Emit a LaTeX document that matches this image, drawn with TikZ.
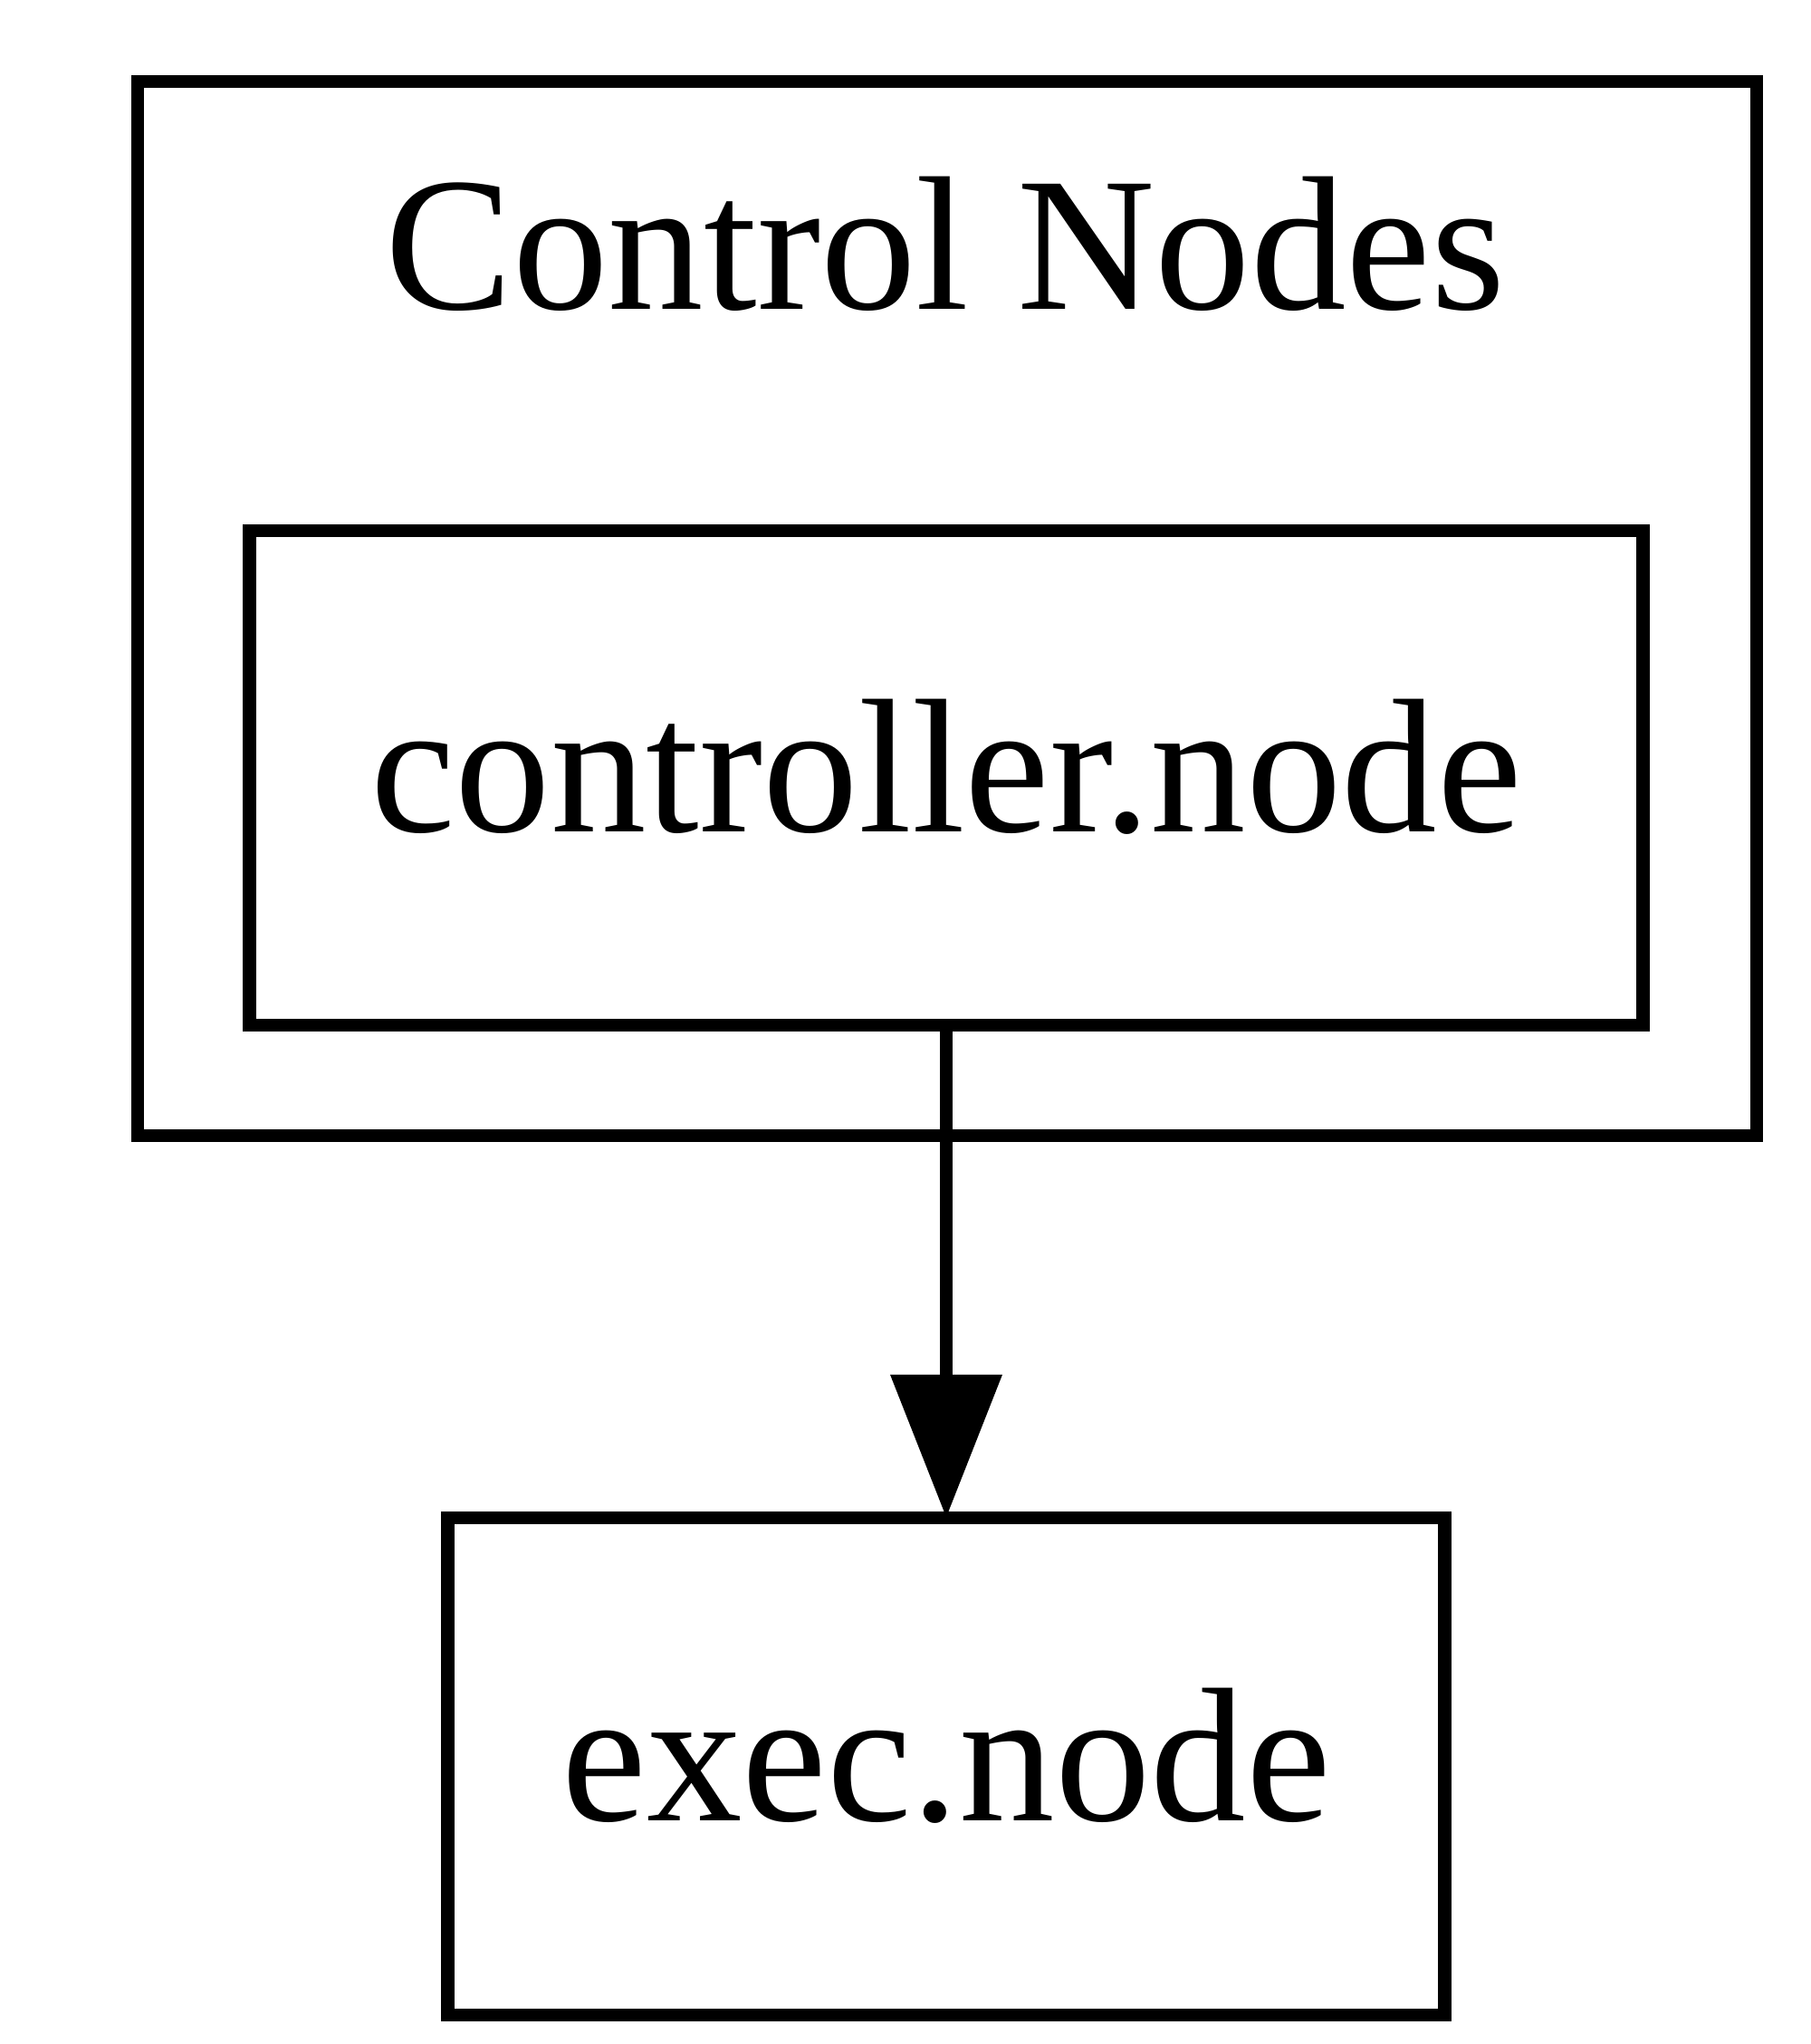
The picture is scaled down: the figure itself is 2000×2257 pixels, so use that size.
\documentclass[tikz,border=0pt]{standalone}
\usepackage{fontspec}
\setmainfont{Liberation Serif}
\usetikzlibrary{arrows.meta}
\begin{document}
\begin{tikzpicture}[x=0.01cm, y=-0.01cm,
  frame/.style={draw, line width=4.1pt, rectangle, inner sep=0pt, outer sep=0pt},
  labelled/.style={frame, text height=40pt, text depth=6pt,
    font=\fontsize{60}{70}\selectfont},
  edge/.style={line width=4.1pt, -{Triangle[length=1.58cm, width=1.2cm]}}]
\useasboundingbox (0,0) rectangle (2000,2257);

% cluster frame
\node[frame, minimum width=17.865cm, minimum height=11.63cm] (cluster) at (1046,672) {};
\node[anchor=base, font=\fontsize{60}{70}\selectfont] (title) at (1044,341) {Control Nodes};

% nodes
\node[labelled, minimum width=15.38cm, minimum height=5.46cm] (ctrl) at (1045,859) {controller.node};
\node[labelled, minimum width=11cm, minimum height=5.49cm] (exec) at (1045,1950.5) {exec.node};

% edge
\draw[edge] (ctrl.south) -- (exec.north);
\end{tikzpicture}
\end{document}
